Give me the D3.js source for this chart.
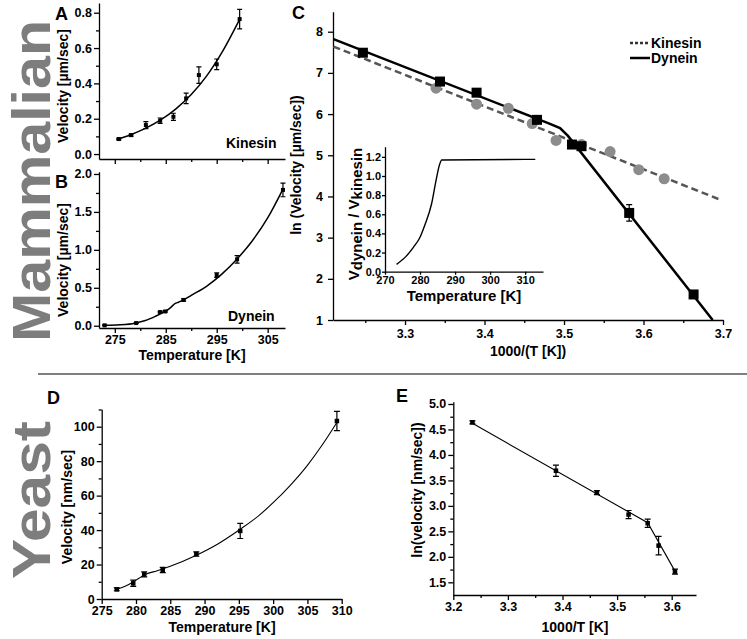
<!DOCTYPE html>
<html><head><meta charset="utf-8">
<script src="https://cdn.jsdelivr.net/npm/d3@7"></script>
<style>
body{margin:0;background:#fff;}
svg{display:block;font-family:"Liberation Sans",Arial,Helvetica,sans-serif;}
.axis path,.axis line{stroke:#000;stroke-width:1.3px;}
.axis text{font-size:12.5px;font-weight:bold;fill:#000;}
.lbl{font-size:14px;font-weight:bold;fill:#000;}
.plbl{font-size:18px;font-weight:bold;fill:#000;}
.big{font-size:54px;font-weight:bold;fill:#7d7d7d;}
</style></head><body>
<svg id="c" width="747" height="639"></svg>
<script>
// ---------- Panel A: mammalian kinesin ----------
const kinT   = [275.8, 278.2, 281.1, 283.9, 286.5, 289.0, 291.5, 295.0, 299.5];
const kinV   = [0.085, 0.107, 0.164, 0.189, 0.211, 0.315, 0.447, 0.508, 0.764];
const kinErr = [0.005, 0.006, 0.020, 0.015, 0.020, 0.030, 0.047, 0.030, 0.055];
const kinFitT = [275.3, 278, 281, 284, 287, 290, 293, 296, 299.6];
const kinFitV = [0.082, 0.108, 0.145, 0.193, 0.256, 0.337, 0.441, 0.574, 0.768];
// ---------- Panel B: mammalian dynein ----------
const dynT   = [273.0, 279.2, 283.9, 284.9, 288.5, 295.0, 299.0, 308.0];
const dynV   = [0.005, 0.035, 0.180, 0.188, 0.340, 0.668, 0.875, 1.790];
const dynErr = [0.005, 0.006, 0.010, 0.010, 0.015, 0.030, 0.050, 0.090];
const dynFitT = [273, 276, 279, 281, 283, 284.5, 285.5, 286.2, 286.8, 287.5, 288.5, 290, 293, 296, 299, 302, 305, 308];
const dynFitV = [0.005, 0.012, 0.034, 0.068, 0.125, 0.175, 0.215, 0.255, 0.29, 0.31, 0.34, 0.40, 0.52, 0.68, 0.88, 1.12, 1.42, 1.80];
const tempTicksAB = [275, 285, 295, 305];
// ---------- Panel C: Arrhenius plot ----------
const kinInvT = [3.339, 3.390, 3.430, 3.460, 3.490, 3.522, 3.558, 3.594, 3.626];
const kinLn   = [6.63, 6.24, 6.14, 5.77, 5.36, 5.26, 5.09, 4.65, 4.43];
const dynInvT = [3.247, 3.344, 3.390, 3.466, 3.510, 3.522, 3.582, 3.663];
const dynLn   = [7.49, 6.79, 6.52, 5.86, 5.26, 5.22, 3.60, 1.62];
const dynLnErr= [0.05, 0.05, 0.05, 0.05, 0.05, 0.05, 0.20, 0.05];
const kinLineX = [3.21, 3.698];
const kinLineY = [7.64, 3.91];
const dynLineX = [3.21, 3.48, 3.495, 3.505, 3.687];
const dynLineY = [7.82, 5.78, 5.66, 5.47, 1.00];
const legendNames = ["Kinesin", "Dynein"];
// inset
const insetT = [273.3, 276, 278.1, 280, 281.4, 283.3, 284.6, 285.5, 286.2, 312.9];
const insetR = [0.077, 0.16, 0.255, 0.36, 0.49, 0.71, 0.96, 1.11, 1.167, 1.174];
// ---------- Panel D: yeast ----------
const yeastT   = [277.2, 279.6, 281.2, 283.9, 288.8, 295.2, 309.3];
const yeastV   = [5.6, 9.1, 14.3, 16.8, 26.1, 39.5, 103.3];
const yeastErr = [0.8, 1.8, 1.5, 1.5, 1.3, 4.4, 5.6];
const yeastFitT = [277.2, 278.5, 279.6, 280.5, 281.6, 283, 285, 288.8, 292, 295.2, 298, 300, 302.5, 305, 307, 309.3];
const yeastFitV = [5.6, 7.6, 9.9, 12.2, 14.6, 16.3, 19.0, 25.4, 32.1, 40.5, 48.7, 55.9, 66.0, 77.6, 88.5, 102.5];
// ---------- Panel E: yeast Arrhenius ----------
const yeastInvT  = [3.235, 3.388, 3.463, 3.521, 3.556, 3.576, 3.606];
const yeastLn    = [4.64, 3.69, 3.26, 2.83, 2.66, 2.22, 1.71];
const yeastLnErr = [0.03, 0.11, 0.04, 0.08, 0.08, 0.18, 0.05];
const yeastLineX = [3.235, 3.556, 3.606];
const yeastLineY = [4.62, 2.67, 1.72];

const svg = d3.select("#c");
const rng = (a, b, s) => d3.range(a, b + s / 2, s).map(v => +v.toFixed(4));

function panel(o) {
  const x = d3.scaleLinear().domain(o.xd).range(o.xr);
  const y = d3.scaleLinear().domain(o.yd).range(o.yr);
  const g = svg.append("g");
  const bottom = o.yr[0], left = o.xr[0];
  const ts = o.ts || 5, mts = o.mts || 3;
  if (o.xMinor) g.append("g").attr("class", "axis").attr("transform", `translate(0,${bottom})`)
      .call(d3.axisBottom(x).tickValues(o.xMinor).tickSize(mts).tickFormat(""))
      .call(s => s.select(".domain").remove());
  if (o.yMinor) g.append("g").attr("class", "axis").attr("transform", `translate(${left},0)`)
      .call(d3.axisLeft(y).tickValues(o.yMinor).tickSize(mts).tickFormat(""))
      .call(s => s.select(".domain").remove());
  const xa = g.append("g").attr("class", "axis").attr("transform", `translate(0,${bottom})`)
      .call(d3.axisBottom(x).tickValues(o.xMajor).tickSize(ts).tickSizeOuter(0).tickPadding(o.xPad || 2)
      .tickFormat(o.xFmt));
  const ya = g.append("g").attr("class", "axis").attr("transform", `translate(${left},0)`)
      .call(d3.axisLeft(y).tickValues(o.yMajor).tickSize(ts).tickSizeOuter(0).tickPadding(o.yPad || 2)
      .tickFormat(o.yFmt));
  [xa, ya].forEach(a => a.attr("font-size", null).attr("font-family", null));
  if (o.fs) { xa.selectAll("text").style("font-size", o.fs); ya.selectAll("text").style("font-size", o.fs); }
  return {x, y, g};
}

function errBars(p, xs, ys, es, cap) {
  p.g.append("g").selectAll("path").data(xs).join("path")
    .attr("d", (d, i) => {
      const X = p.x(d), y1 = p.y(ys[i] + es[i]), y2 = p.y(ys[i] - es[i]);
      return `M${X},${y1}V${y2}M${X - cap},${y1}H${X + cap}M${X - cap},${y2}H${X + cap}`;
    })
    .attr("fill", "none").attr("stroke", "#000").attr("stroke-width", 1.2);
}
function squares(p, xs, ys, s, col) {
  p.g.append("g").selectAll("rect").data(xs).join("rect")
    .attr("x", d => p.x(d) - s / 2).attr("y", (d, i) => p.y(ys[i]) - s / 2)
    .attr("width", s).attr("height", s).attr("fill", col || "#000");
}
function curve(p, xs, ys, w, c, dash, cf) {
  p.g.append("path").datum(xs.map((d, i) => [d, ys[i]]))
    .attr("d", d3.line().x(d => p.x(d[0])).y(d => p.y(d[1])).curve(cf || d3.curveLinear))
    .attr("fill", "none").attr("stroke", c || "#000").attr("stroke-width", w)
    .attr("stroke-dasharray", dash || null);
}
function text(x, y, s, cls, anchor, rot) {
  const t = svg.append("text").attr("class", cls).attr("text-anchor", anchor || "start");
  if (rot) t.attr("transform", `translate(${x},${y}) rotate(-90)`);
  else t.attr("x", x).attr("y", y);
  t.text(s);
  return t;
}
const f1 = d3.format(".1f");

// ===== Panel A =====
const A = panel({xd: [271.9, 308.4], xr: [99, 285], yd: [-0.028, 0.855], yr: [159, 3],
  xMajor: tempTicksAB, xMinor: [280, 290, 300], xFmt: () => "",
  yMajor: [0, 0.2, 0.4, 0.6, 0.8], yMinor: [0.1, 0.3, 0.5, 0.7], yFmt: f1});
curve(A, kinFitT, kinFitV, 1.5, "#000", null, d3.curveMonotoneX);
errBars(A, kinT, kinV, kinErr, 2.5);
squares(A, kinT, kinV, 4);
text(226, 148, "Kinesin", "lbl");
text(68, 86, "Velocity [\u00b5m/sec]", "lbl", "middle", true);
text(55, 20, "A", "plbl");

// ===== Panel B =====
const B = panel({xd: [271.9, 308.4], xr: [99, 285], yd: [-0.03, 2.03], yr: [328, 171.7],
  xMajor: tempTicksAB, xMinor: [280, 290, 300], xFmt: d3.format("d"),
  yMajor: [0, 0.5, 1.0, 1.5, 2.0], yMinor: [0.25, 0.75, 1.25, 1.75], yFmt: f1});
curve(B, dynFitT, dynFitV, 1.5, "#000", null, d3.curveMonotoneX);
errBars(B, dynT, dynV, dynErr, 2.5);
squares(B, dynT, dynV, 4);
text(228, 321, "Dynein", "lbl");
text(68, 260, "Velocity [\u00b5m/sec]", "lbl", "middle", true);
text(192, 360, "Temperature [K]", "lbl", "middle");
text(55, 188, "B", "plbl");

// ===== Panel C =====
const C = panel({xd: [3.2094, 3.7], xr: [333, 723], yd: [1, 8.486], yr: [320, 11.7],
  xMajor: [3.3, 3.4, 3.5, 3.6, 3.7], xMinor: [3.25, 3.35, 3.45, 3.55, 3.65], xFmt: f1, xPad: 4,
  yMajor: [1, 2, 3, 4, 5, 6, 7, 8], yFmt: d3.format("d"), yPad: 5});
curve(C, kinLineX, kinLineY, 2.5, "#555", "7,4");
curve(C, dynLineX, dynLineY, 2.5, "#000");
C.g.append("g").selectAll("circle").data(kinInvT).join("circle")
  .attr("cx", d => C.x(d)).attr("cy", (d, i) => C.y(kinLn[i])).attr("r", 5.5).attr("fill", "#8c8c8c");
errBars(C, dynInvT, dynLn, dynLnErr, 3);
squares(C, dynInvT, dynLn, 10);
text(301, 165, "ln (Velocity [\u00b5m/sec])", "lbl", "middle", true);
text(528, 356, "1000/(T [K])", "lbl", "middle");
text(292, 19, "C", "plbl");
// legend
svg.append("line").attr("x1", 630).attr("x2", 650).attr("y1", 43).attr("y2", 43)
  .attr("stroke", "#333").attr("stroke-width", 2.5).attr("stroke-dasharray", "3,2");
svg.append("line").attr("x1", 630).attr("x2", 650).attr("y1", 58).attr("y2", 58)
  .attr("stroke", "#000").attr("stroke-width", 2.5);
text(651, 48, legendNames[0], "lbl");
text(651, 63, legendNames[1], "lbl");

// inset
const I = panel({xd: [270, 315.1], xr: [385, 543], yd: [0, 1.306], yr: [271.7, 146.7],
  xMajor: [270, 280, 290, 300, 310], xFmt: d3.format("d"), xPad: 0,
  yMajor: [0, 0.2, 0.4, 0.6, 0.8, 1.0, 1.2], yFmt: f1, yPad: 1, ts: 3, fs: "11px"});
curve(I, insetT, insetR, 1.4, "#000", null, d3.curveMonotoneX);
text(464, 301, "Temperature [K]", "lbl", "middle").style("font-size", "15px");
const yl = svg.append("text").attr("class", "lbl").style("font-size", "15px")
  .attr("text-anchor", "middle").attr("transform", "translate(359,214) rotate(-90)");
yl.append("tspan").text("V");
yl.append("tspan").attr("dy", 3).text("dynein");
yl.append("tspan").attr("dy", -3).text(" / V");
yl.append("tspan").attr("dy", 3).text("kinesin");

// separators and big labels
svg.append("line").attr("x1", 38).attr("x2", 747).attr("y1", 374).attr("y2", 374)
  .attr("stroke", "#000").attr("stroke-width", 1.2);
text(50, 181, "Mammalian", "big", "middle", true).attr("textLength", 322).attr("lengthAdjust", "spacingAndGlyphs");
text(50, 500, "Yeast", "big", "middle", true).attr("textLength", 158).attr("lengthAdjust", "spacingAndGlyphs");

// ===== Panel D =====
const D = panel({xd: [275, 310], xr: [101.7, 341.7], yd: [0, 110.1], yr: [599, 409.3],
  xMajor: rng(275, 310, 5), xFmt: d3.format("d"),
  yMajor: rng(0, 100, 20), yMinor: rng(10, 110, 20), yFmt: d3.format("d")});
curve(D, yeastFitT, yeastFitV, 1.1, "#000", null, d3.curveMonotoneX);
errBars(D, yeastT, yeastV, yeastErr, 3);
squares(D, yeastT, yeastV, 4.5);
text(72, 507, "Velocity [nm/sec]", "lbl", "middle", true);
text(222, 632, "Temperature [K]", "lbl", "middle");
text(47, 404, "D", "plbl");

// ===== Panel E =====
const E = panel({xd: [3.2, 3.6445], xr: [453.3, 696], yd: [1.251, 5.045], yr: [595, 401.7],
  xMajor: [3.2, 3.3, 3.4, 3.5, 3.6], xMinor: [3.25, 3.35, 3.45, 3.55], xFmt: f1,
  yMajor: rng(1.5, 5.0, 0.5), yMinor: rng(1.75, 4.75, 0.5), yFmt: f1});
curve(E, yeastLineX, yeastLineY, 1.1, "#000");
errBars(E, yeastInvT, yeastLn, yeastLnErr, 3);
squares(E, yeastInvT, yeastLn, 4.5);
text(422, 490, "ln(velocity [nm/sec])", "lbl", "middle", true);
text(575, 632, "1000/T [K]", "lbl", "middle");
text(396, 402, "E", "plbl");
</script>
</body></html>
